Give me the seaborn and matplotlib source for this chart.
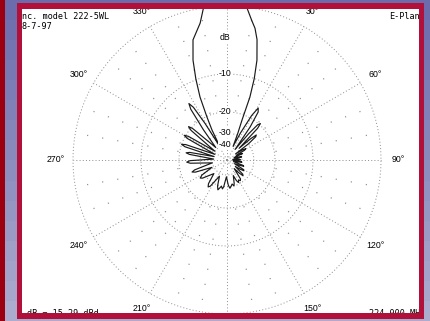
import numpy as np
import matplotlib
matplotlib.use("Agg")
import matplotlib.pyplot as plt
import seaborn as sns
from matplotlib.colors import LinearSegmentedColormap
from matplotlib.patches import Rectangle

# ---- pattern data: compass angle (deg, clockwise from boresight) and relative level (dB)
angle_deg = [0, 4, 7, 10, 12, 14, 16.7, 18.5, 20, 20.6, 22, 24,
             26.5, 29, 31, 33, 35, 37.5,
             39.5, 41, 42.5, 44, 46,
             48, 49.5, 51, 53, 54.5,
             57, 59, 61, 63,
             66, 67.5, 70, 72, 76, 78, 80, 84, 87, 88.5, 90, 92,
             96, 98, 100, 104, 108.5, 110.5, 113, 116,
             120, 122.5, 125, 128, 132, 134.5, 137, 140,
             144.5, 147, 150, 153, 155.5, 158,
             163, 165, 168, 171.5, 174, 177, 182,
             187, 189, 192, 195, 197, 200, 205,
             212.5, 215, 218, 224, 233.5, 236, 239, 244,
             249, 251, 253, 259, 265, 267, 269, 274,
             278.5, 280, 281.5, 285, 287.5, 289, 290.5, 295,
             298.5, 300, 301.5, 306, 309.5, 311, 312.5, 318,
             322, 324.5, 326, 327.5, 329, 332,
             333.4, 335, 336.8, 339, 341.2, 344.2, 348.9, 351.6, 356, 360]
level_db = [2.0, 1.6, 0.2, -1.4, -2.3, -3.7, -6.7, -10, -14.3, -22, -28.7, -40,
            -28, -19, -16, -17, -23, -42,
            -26, -20.5, -19.5, -21.5, -38,
            -27, -23.8, -24.5, -30, -46,
            -36, -33.5, -35, -46,
            -39, -38, -50, -52, -42, -40, -44, -56, -43, -42, -44, -56,
            -42, -40, -44, -54, -38, -37, -42, -50,
            -36, -35, -39, -46, -34, -33, -37, -45,
            -32.5, -31.5, -32.5, -31, -33, -38,
            -31.5, -30, -31.5, -30, -29, -31, -38,
            -30, -28.5, -30, -28.5, -27.4, -29.5, -37,
            -27.5, -26.5, -28, -36, -27.8, -26.8, -28.5, -38,
            -26, -24.5, -26, -40, -24.5, -23, -24.5, -42,
            -24, -22.5, -24, -42, -21.5, -20, -21.5, -42,
            -21, -19.5, -21, -40, -20.5, -19, -20.5, -38,
            -24, -15.5, -14, -15.5, -22, -40,
            -26.2, -20.2, -13.9, -9.8, -6.5, -3.6, -1.7, 0.3, 1.6, 2.0]

ring_db = [0, -10, -20, -30, -40]
ring_labels = ["-10", "-20", "-30", "-40"]
spoke_deg = [0, 30, 60, 90, 120, 150, 180, 210, 240, 270, 300, 330]
label_deg = [30, 60, 90, 120, 150, 210, 240, 270, 300, 330]

header_left = ["nc. model 222-5WL", "8-7-97"]
header_right = "E-Plan"
footer_left = "dB = 15.29 dBd"
footer_right = "224.000 MH"

sns.set_theme(style="white")
plt.rcParams["lines.scale_dashes"] = False
plt.rcParams["font.family"] = ["Liberation Sans", "DejaVu Sans"]

W, H = 431, 321
fig = plt.figure(figsize=(W / 100, H / 100), dpi=100)

# ---- window background (pixel coordinates, y downward)
bg = fig.add_axes([0, 0, 1, 1], zorder=0)
bg.set_xlim(0, W)
bg.set_ylim(H, 0)
bg.axis("off")
shade = LinearSegmentedColormap.from_list("shade", ["#6c6cac", "#acacce"])
bg.imshow(np.linspace(0, 1, 256)[:, None], extent=(0, W, H, 0), cmap=shade,
          aspect="auto", vmin=0, vmax=1)
bg.add_patch(Rectangle((22, 9), 397, 304, facecolor="white", edgecolor="none"))

# ---- polar pattern on an ARRL-style log radial scale
R_PX = 154
cx, cy = 227, 160
ax = fig.add_axes([(cx - R_PX) / W, (H - cy - R_PX) / H, 2 * R_PX / W, 2 * R_PX / H],
                  projection="polar", zorder=5)
ax.patch.set_alpha(0)
ax.spines["polar"].set_visible(False)
ax.set_theta_zero_location("N")
ax.set_theta_direction(-1)


def fwd(x):
    return 0.89 ** (-np.asarray(x, dtype=float) / 2)


def inv(y):
    y = np.maximum(np.asarray(y, dtype=float), 1e-300)
    return -2 * np.log(y) / np.log(0.89)


ax.set_rscale("function", functions=(fwd, inv))
ax.set_rlim(-200, 0)
ax.set_xticks([])
ax.set_yticks([])
ax.grid(False)

grid_c = "#8c8c8c"
th = np.linspace(0, 2 * np.pi, 721)
for db in ring_db:
    ax.plot(th, np.full_like(th, db), color=grid_c, lw=0.7,
            ls=(0, (0.7, 1.6)), clip_on=False, zorder=1)
for a in spoke_deg:
    t = np.deg2rad(a)
    ax.plot([t, t], [-200, 0], color=grid_c, lw=0.7, ls=(0, (0.7, 1.6)),
            clip_on=False, zorder=1)
for a in range(0, 360, 10):
    if a % 30:
        t = np.deg2rad(a)
        ax.plot([t, t], [0, -20], color=grid_c, lw=0.9, ls=(2.4, (0.8, 10.2)),
                clip_on=False, zorder=1)

ax.plot(np.deg2rad(angle_deg), level_db, color="#1a1a1a", lw=0.85,
        clip_on=False, zorder=3)

for a in label_deg:
    ax.text(np.deg2rad(a), 1.8, f"{a}\u00b0", ha="center", va="center",
            fontsize=6.3, color="black", clip_on=False, zorder=4)

lab_kw = dict(ha="center", va="center", fontsize=6.3, color="black", zorder=4,
              textcoords="offset points", annotation_clip=False,
              bbox=dict(boxstyle="square,pad=0.1", fc="white", ec="none"))
ax.annotate("dB", (0, -3.9), xytext=(-1.2, 0), **lab_kw)
for db, txt in zip(ring_db[1:], ring_labels):
    ax.annotate(txt, (0, db), xytext=(-1.6, 0.6), **lab_kw)

# ---- header / footer text of the plot window
mono = dict(family="DejaVu Sans Mono", fontsize=6.1, color="black")
bg.text(22, 16.5, header_left[0], va="center", ha="left", zorder=2, **mono)
bg.text(22, 26.5, header_left[1], va="center", ha="left", zorder=2, **mono)
bg.text(389, 16.5, header_right, va="center", ha="left", zorder=2, **mono)

# ---- window frame drawn over everything
ov = fig.add_axes([0, 0, 1, 1], zorder=10)
ov.set_xlim(0, W)
ov.set_ylim(H, 0)
ov.axis("off")
ov.patch.set_alpha(0)
ov.text(27, 313.5, footer_left, va="center", ha="left", zorder=1, **mono)
ov.text(369, 313.5, footer_right, va="center", ha="left", zorder=1, **mono)
for (x0, x1, y0, y1) in [(0, W, 0, 3), (0, W, 319, H), (5, 17, 0, H), (424, W, 0, H)]:
    ov.imshow(np.linspace(y0 / H, y1 / H, 16)[:, None], extent=(x0, x1, y1, y0),
              cmap=shade, vmin=0, vmax=1, aspect="auto", zorder=2)
red = "#b0103a"
for (x0, y0, w, h) in [(17, 3, 407, 6), (17, 313, 407, 6), (17, 3, 5, 316), (419, 3, 5, 316)]:
    ov.add_patch(Rectangle((x0, y0), w, h, facecolor=red, edgecolor="none", zorder=3))
ov.add_patch(Rectangle((0, 0), 5, H, facecolor="#9c0010", edgecolor="none", zorder=3))
ov.set_xlim(0, W)
ov.set_ylim(H, 0)

fig.savefig("out.png", dpi=100)
